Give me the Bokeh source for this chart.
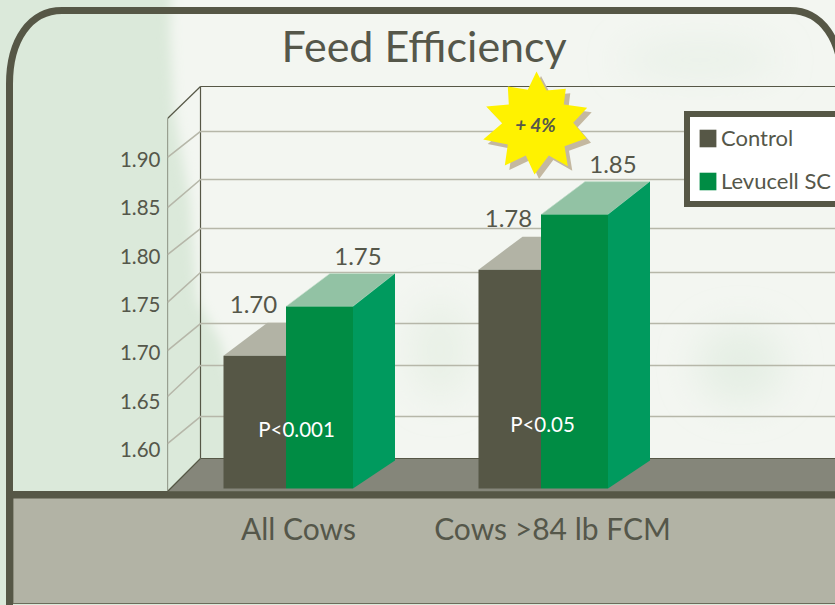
from bokeh.embed import file_html
from bokeh.resources import INLINE
from bokeh.plotting import figure
from bokeh.models import Range1d, FixedTicker, PolyAnnotation, Legend, LegendItem, Label
from bokeh.core.properties import value
from urllib.parse import quote

FONT = "Lato"
DARK = "#565746"
INK = "#55574a"

# data
groups = ["All Cows", "Cows >84 lb FCM"]
control = [1.697, 1.786]
levucell = [1.748, 1.843]
control_labels = ["1.70", "1.78"]
levucell_labels = ["1.75", "1.85"]
p_values = ["P<0.001", "P<0.05"]
y_ticks = [1.60, 1.65, 1.70, 1.75, 1.80, 1.85, 1.90]
grid_front = [1.6062, 1.6548, 1.7024, 1.7521, 1.8017, 1.8503, 1.9021]
grid_back = [1.6341, 1.6869, 1.7303, 1.7831, 1.8286, 1.8793, 1.9290]
legend_names = ["Control", "Levucell SC"]
callout = "+ 4%"
y_title = "lb 3.5% FCM/lb DMI"

# page geometry (reference pixels)
W, H = 835, 605
FL, FT, FB = 167, 70, 491
PPU = 966.67
def X(px): return px - FL
def Y(py): return 1.60 + (449 - py) / PPU
def dv(px): return px / PPU

# the sheet behind the chart: paper texture, rounded frame, bottom panel
sheet = f"""<svg xmlns='http://www.w3.org/2000/svg' width='{W}' height='{H}'>
<defs><filter id='b' x='-20%' y='-20%' width='140%' height='140%'><feGaussianBlur stdDeviation='6'/></filter>
<filter id='c' x='-50%' y='-50%' width='200%' height='200%'><feGaussianBlur stdDeviation='18'/></filter></defs>
<rect width='{W}' height='{H}' fill='#dbe9da'/>
<polygon filter='url(#b)' fill='#f3f6f1' points='172,-20 860,-20 860,480 268,480 232,385 220,340 197,300 190,200 174,110 170,30'/>
<ellipse filter='url(#c)' fill='#dbe9da' fill-opacity='.55' cx='740' cy='365' rx='45' ry='40'/>
<ellipse filter='url(#c)' fill='#dbe9da' fill-opacity='.45' cx='440' cy='350' rx='30' ry='50'/>
<ellipse filter='url(#c)' fill='#dbe9da' fill-opacity='.35' cx='700' cy='60' rx='80' ry='20'/>
<rect x='13' y='495' width='830' height='108.5' fill='#b2b3a5' stroke='#6b6c5b'/>
<path fill='none' stroke='{DARK}' stroke-width='7' d='M9.5 612 V84 C9.5 40 30 10.5 62 10.5 H790 C822 10.5 842 40 842 84 V612'/>
<rect x='6' y='491' width='840' height='7.5' fill='{DARK}'/>
</svg>"""
bg = "url(\"data:image/svg+xml," + quote(sheet.replace("\n", "")) + "\")"

p = figure(width=W, height=H, output_backend="svg", toolbar_location=None,
           x_range=Range1d(X(FL), X(W)), y_range=Range1d(Y(FB), Y(FT)),
           min_border_left=FL, min_border_right=0, min_border_top=FT, min_border_bottom=H - FB,
           border_fill_alpha=0, background_fill_alpha=0, outline_line_color=None,
           title="Feed Efficiency")
p.styles = {"position": "absolute", "left": "0", "top": "0", "background-image": bg}
p.grid.visible = False
p.title.text_font = FONT
p.title.text_font_size = "43px"
p.title.text_font_style = "normal"
p.title.text_color = INK
p.title.align = "left"
p.title.offset = 281 - FL
p.title.standoff = 0

# axes
yax = p.yaxis[0]
yax.ticker = FixedTicker(ticks=y_ticks)
yax.major_label_overrides = {t: f"{t:.2f}" for t in y_ticks}
yax.axis_line_color = None
yax.major_tick_line_color = None
yax.minor_tick_line_color = None
yax.major_tick_in = 0
yax.major_tick_out = 0
yax.major_label_standoff = 7
yax.major_label_text_font = FONT
yax.major_label_text_font_size = "20.5px"
yax.major_label_text_color = INK

label_centres = [X(298), X(552)]
xax = p.xaxis[0]
xax.ticker = FixedTicker(ticks=label_centres)
xax.major_label_overrides = dict(zip(label_centres, groups))
xax.axis_line_color = None
xax.major_tick_line_color = None
xax.minor_tick_line_color = None
xax.major_tick_in = 0
xax.major_tick_out = 0
xax.major_label_standoff = 18
xax.major_label_text_font = FONT
xax.major_label_text_font_size = "30px"
xax.major_label_text_color = INK

p.add_layout(Label(x=62, y=286, x_units="canvas", y_units="canvas", text=y_title, angle=90, angle_units="deg",
                   text_align="center", text_baseline="middle", text_font=FONT, text_font_size="27px",
                   text_color=INK))

# floor and walls
wall_l, wall_r = X(167), X(200)
right = X(W)
p.patch([wall_l, wall_r, right, right, wall_l], [Y(491), Y(458.5), Y(458.5), Y(491), Y(491)],
        fill_color="#85867a", line_alpha=0)
p.multi_line([[wall_l, wall_l], [wall_r, wall_r], [wall_r, right], [wall_l, wall_r], [wall_l, wall_r], [wall_r, right]],
             [[Y(118), Y(491)], [Y(86), Y(458)], [Y(86), Y(86)], [Y(118), Y(86)], [Y(491), Y(458)], [Y(458), Y(458)]],
             line_color=DARK, line_width=1.2)
for f, b in zip(grid_front, grid_back):
    p.line([wall_l, wall_r, right], [f, b, b], line_color="#b6b7a9", line_width=1.6)

# bars
group_left = [X(223), X(478)]
control_w = 62.5
lev_w = 67
depth_x = 42
depth_top = dv(33)
depth_bottom = dv(28)
base = Y(488)
ctrl = None
lev = None
for gl, c, l in zip(group_left, control, levucell):
    p.patch([gl, gl + control_w, gl + control_w + 44, gl + 44],
            [c, c, c + depth_top, c + depth_top], fill_color="#b2b3a5", line_alpha=0)
    ctrl = p.quad(left=gl, right=gl + control_w, bottom=base, top=c, fill_color=DARK, line_alpha=0)
    ll, lr = gl + control_w, gl + control_w + lev_w
    p.patch([ll, lr, lr + depth_x, ll + 44], [l, l, l + depth_top, l + depth_top],
            fill_color="#92c2a4", line_color="#c8e0cf", line_width=0.6)
    p.patch([lr, lr + depth_x, lr + depth_x, lr], [l, l + depth_top, base + depth_bottom, base],
            fill_color="#009a5e", line_alpha=0)
    lev = p.quad(left=ll, right=lr, bottom=base, top=l, fill_color="#008c44", line_alpha=0)

# value labels
lab_x, lab_y, lab_t = [], [], []
for gl, c, l, ct, lt in zip(group_left, control, levucell, control_labels, levucell_labels):
    lab_x += [gl + 30, gl + control_w + 72]
    lab_y += [c + dv(51), l + dv(50)]
    lab_t += [ct, lt]
p.text(lab_x, lab_y, text=lab_t, text_align="center", text_baseline="middle",
       text_font=value(FONT), text_font_size="24px", text_color=INK)

# p-values
p.text([X(296), X(542)], [Y(428), Y(423)], text=p_values, text_align="center", text_baseline="middle",
       text_font=value(FONT), text_font_size="20.5px", text_color="#ffffff")

# callout star
star_x = [536, 546, 565.3, 563.3, 586.7, 572.7, 586, 564, 567.3, 548.3, 534, 525.3, 504.3, 507.3, 482.7, 501.7, 485.7, 508.3, 507.3, 527.3]
star_y = [71, 90, 88.3, 104, 107.3, 122.3, 137.7, 145.7, 165.7, 155, 174, 155, 165, 144, 139, 122.7, 106, 104, 86, 89.3]
for off, col in [(4.5, "#c4b8a0"), (0, "#fff200")]:
    p.add_layout(PolyAnnotation(xs=[x + off for x in star_x], ys=[y + off for y in star_y],
                                xs_units="canvas", ys_units="canvas", level="annotation",
                                fill_color=col, fill_alpha=1, line_alpha=0))
p.add_layout(Label(x=X(535), y=Y(124), text=callout, text_align="center", text_baseline="middle",
                   text_font=FONT, text_font_size="19px", text_font_style="bold italic", text_color=INK,
                   level="overlay"))

# legend
legend = Legend(items=[LegendItem(label=legend_names[0], renderers=[ctrl]),
                       LegendItem(label=legend_names[1], renderers=[lev])],
                location=(517, FB - 207), orientation="vertical",
                glyph_width=21, glyph_height=22, spacing=16, padding=7, margin=0,
                label_text_font=FONT, label_text_font_size="22px", label_text_color=INK,
                label_standoff=3, label_height=18,
                border_line_color=DARK, border_line_width=6.5, border_line_alpha=1,
                background_fill_color="#ffffff", background_fill_alpha=1)
p.add_layout(legend, "center")

open("out.html", "w").write(file_html(p, INLINE))
